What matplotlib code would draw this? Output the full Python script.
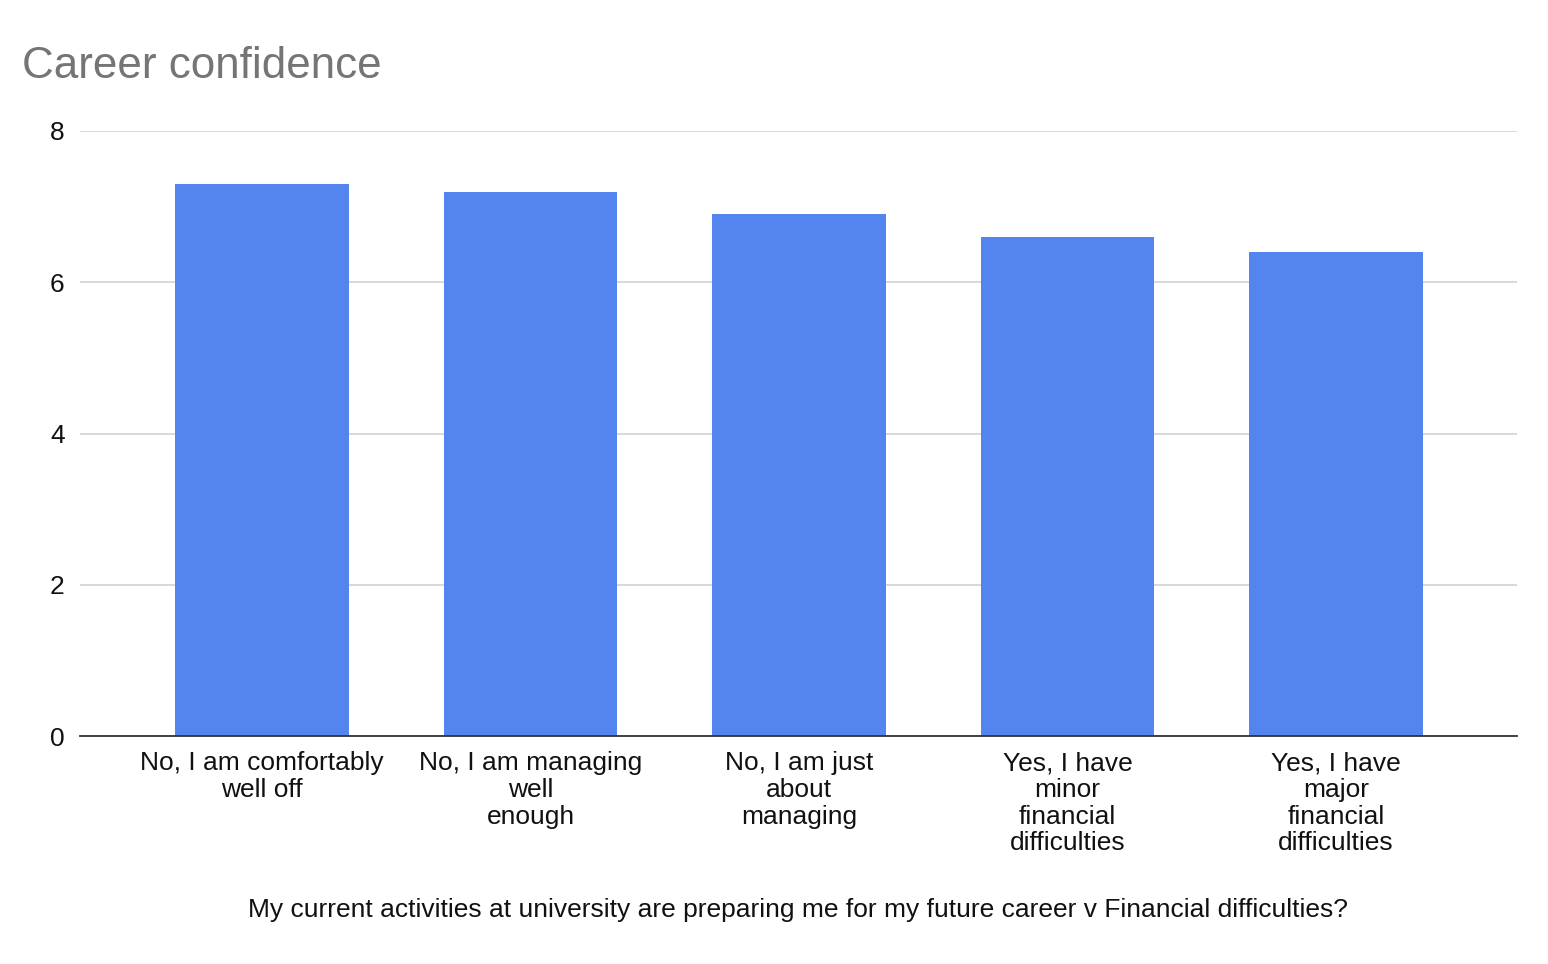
import matplotlib
matplotlib.use("Agg")
import matplotlib.pyplot as plt

categories = [
    "No, I am comfortably\nwell off",
    "No, I am managing\nwell\nenough",
    "No, I am just\nabout\nmanaging",
    "Yes, I have\nminor\nfinancial\ndifficulties",
    "Yes, I have\nmajor\nfinancial\ndifficulties",
]
values = [7.3, 7.2, 6.9, 6.6, 6.4]
yticks = [0, 2, 4, 6, 8]

plt.rcParams['font.family'] = ['Liberation Sans', 'DejaVu Sans']

fig = plt.figure(figsize=(15.48, 9.64), dpi=100)
ax = fig.add_axes([80/1548, 1-736/964, (1517-80)/1548, (736-131)/964])

x = list(range(len(categories)))
ax.bar(x, values, width=0.645, color="#5484ED", zorder=3)

ax.set_xlim(-0.678, 4.674)
ax.set_ylim(0, 8)
ax.set_yticks(yticks)
ax.set_yticklabels([str(t) for t in yticks], fontsize=19, color="#111111")
ax.set_xticks(x)
ax.set_xticklabels(categories, fontsize=19, color="#111111", linespacing=1.14)
ax.tick_params(axis='both', length=0)
ax.tick_params(axis='y', pad=11)
ax.tick_params(axis='x', pad=11)
ax.grid(axis='y', color="#d6d6d6", linewidth=1.3, zorder=0)
for s in ['top', 'right', 'left']:
    ax.spines[s].set_visible(False)
ax.spines['bottom'].set_color("#333333")
ax.spines['bottom'].set_linewidth(1.3)
ax.spines['bottom'].set_zorder(4)

fig.text(22/1548, 1-66/964, "Career confidence", fontsize=31.7, color="#757575",
         ha='left', va='center')
fig.text((249+1347)/2/1548, 1-910/964,
         "My current activities at university are preparing me for my future career v Financial difficulties?",
         fontsize=19, color="#111111", ha='center', va='center')

fig.savefig("out.png", dpi=100)
